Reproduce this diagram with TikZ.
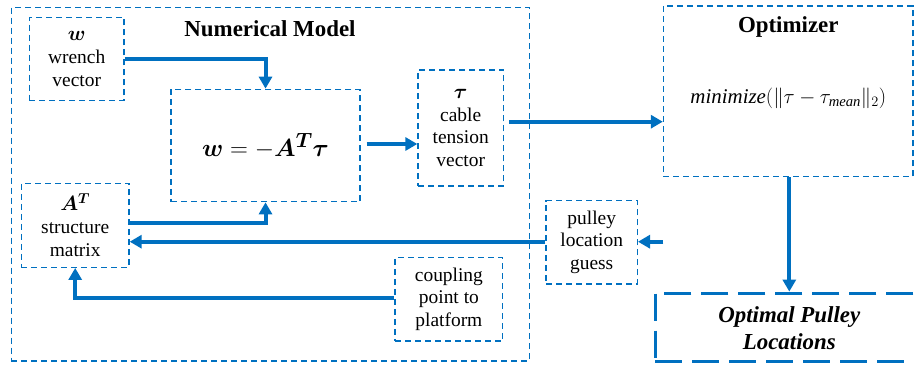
\documentclass[tikz,border=0pt]{standalone}
\usepackage{fontspec}
\setmainfont{Liberation Serif}
\usepackage{amsmath,bm}
\usetikzlibrary{arrows.meta}
\definecolor{flowblue}{RGB}{0,112,192}
\begin{document}
\begin{tikzpicture}[x=1bp,y=-1bp,
  dbox/.style={draw=flowblue,line width=1.3bp,dash pattern=on 6bp off 4bp,
    inner sep=0pt,align=center,font=\fontsize{19.5}{23}\selectfont},
  flow/.style={draw=flowblue,line width=4bp,
    -{Triangle[length=12bp,width=13bp]},shorten >=0pt},
  title/.style={font=\fontsize{23}{28}\selectfont\bfseries}]
\useasboundingbox (0,0) rectangle (914,366);

% outer frame of the model and the optimizer
\node[dbox,minimum width=518bp,minimum height=353.7bp] (model) at (270.4,184.2) {};
\node[title] (modeltitle) at (270,28.5) {Numerical Model};
\node[dbox,minimum width=249.5bp,minimum height=170.7bp] (opt) at (788.2,91.4) {};
\node[title] (opttitle) at (788.3,26.7) {Optimizer};
\node[font=\fontsize{21}{25}\selectfont] (cost) at (788.3,98.3)
  {$\mathit{minimize}(\|\tau-\tau_{\mathit{mean}}\|_2)$};

% boxes inside the model
\node[dbox,minimum width=94.7bp,minimum height=83.4bp] (w) at (76.7,59)
  {$\bm{w}$\\wrench\\vector};
\node[dbox,minimum width=189bp,minimum height=112.4bp] (eq) at (265.5,145.5)
  {\fontsize{28}{32}\selectfont$\bm{w}=-\bm{A}^{\bm{T}}\bm{\tau}$};
\node[dbox,minimum width=85.4bp,minimum height=116bp] (tau) at (460.7,128)
  {$\bm{\tau}$\\cable\\tension\\vector};
\node[dbox,minimum width=107.7bp,minimum height=84bp] (A) at (75.2,225.3)
  {$\bm{A}^{\bm{T}}$\\structure\\matrix};
\node[dbox,minimum width=107.8bp,minimum height=83.3bp] (coup) at (448.9,299.3)
  {coupling\\point to\\platform};
\node[dbox,minimum width=91.3bp,minimum height=83.3bp] (pul) at (591.7,242.3)
  {pulley\\location\\guess};

% result box, running off the right edge
\node[draw=flowblue,line width=3bp,dash pattern=on 27bp off 10bp,
  minimum width=280bp,minimum height=68.4bp,inner sep=0pt] (res) at (795,327.3) {};
\node[font=\fontsize{23}{26.7}\selectfont\bfseries\itshape,align=center]
  (restext) at (789.3,328.3) {Optimal Pulley\\Locations};

% connectors
\coordinate (wa) at (w.east |- 0,59.3);
\draw[flow] (wa) -| (eq.north);
\coordinate (aa) at (A.east |- 0,223.3);
\draw[flow] (aa) -| (eq.south);
\coordinate (eqo) at (366.7,144);
\draw[flow] (eqo) -- (tau.west |- eqo);
\coordinate (tauo) at (509,121.7);
\draw[flow] (tauo) -- (opt.west |- tauo);
\coordinate (pl) at (pul.west |- 0,241.7);
\draw[flow] (pl) -- (A.east |- pl);
\coordinate (pin) at (663.3,241.7);
\draw[flow] (pin) -- (pul.east |- pin);
\coordinate (cl) at (coup.west |- 0,297.7);
\draw[flow] (cl) -| (A.south);
\draw[flow] (opt.south -| 789.3,0) -- (res.north -| 789.3,0);
\end{tikzpicture}
\end{document}
